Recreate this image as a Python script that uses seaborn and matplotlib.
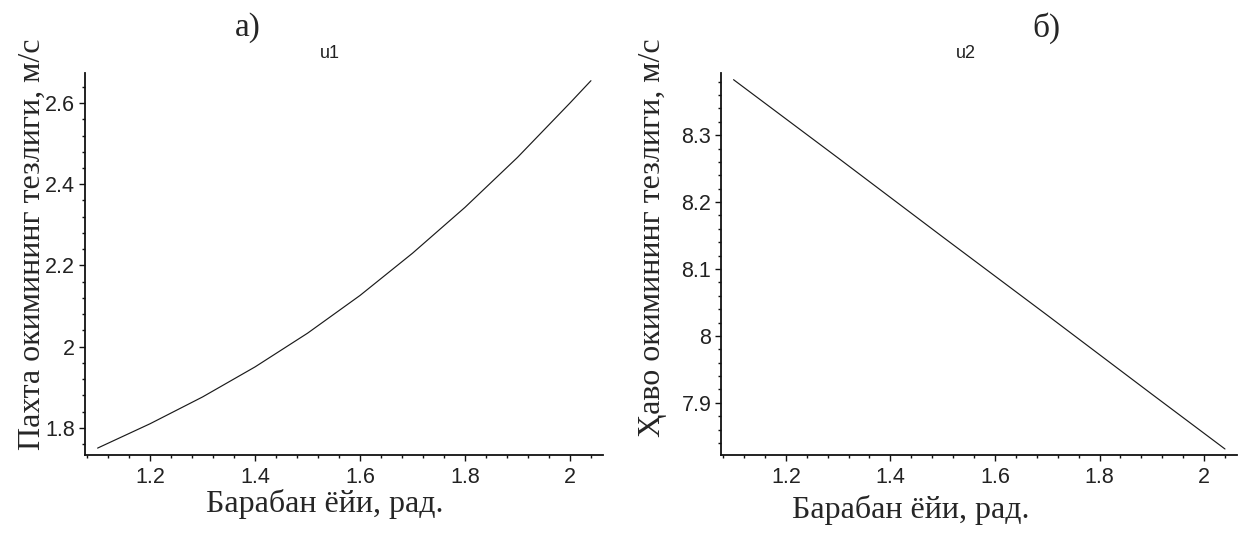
import numpy as np
import pandas as pd
import matplotlib
matplotlib.use("Agg")
import matplotlib.pyplot as plt
from matplotlib.ticker import MultipleLocator, FuncFormatter
import seaborn as sns

# ---- data ----
angle_u1 = [1.1, 1.2, 1.3, 1.4, 1.5, 1.6, 1.7, 1.8, 1.9, 2.0, 2.04]
u1_values = [1.750, 1.810, 1.876, 1.950, 2.033, 2.126, 2.230, 2.343, 2.466, 2.600, 2.655]
angle_u2 = [1.1, 1.3, 1.5, 1.7, 1.9, 2.04]
u2_values = [8.383, 8.266, 8.148, 8.031, 7.913, 7.831]

panel_letters = ["а)", "б)"]
panel_titles = ["u1", "u2"]
x_label = "Барабан ёйи, рад."
y_labels = ["Пахта окимининг тезлиги, м/с", "Ҳаво окимининг тезлиги, м/с"]

sns.set_theme(style="ticks")
plt.rcParams["font.family"] = ["Liberation Sans", "DejaVu Sans"]

W, H = 1240, 539
fig = plt.figure(figsize=(W / 100, H / 100), dpi=100)

def fx(px):
    return px / W

def fy(py):
    return 1 - py / H

ax1 = fig.add_axes([fx(85), fy(455), fx(603) - fx(85), fy(73) - fy(455)])
ax2 = fig.add_axes([fx(721), fy(455), fx(1237) - fx(721), fy(73) - fy(455)])

df1 = pd.DataFrame({"x": angle_u1, "y": u1_values})
df2 = pd.DataFrame({"x": angle_u2, "y": u2_values})
sns.lineplot(data=df1, x="x", y="y", ax=ax1, color="#1a1a1a", linewidth=0.85)
sns.lineplot(data=df2, x="x", y="y", ax=ax2, color="#1a1a1a", linewidth=0.85)

fmt = FuncFormatter(lambda v, p: f"{v:g}")
serif = ["Liberation Serif", "DejaVu Serif"]

for ax, ylim, ymaj, ymin in [
    (ax1, (1.733, 2.674), 0.2, 0.04),
    (ax2, (7.822, 8.393), 0.1, 0.02),
]:
    ax.set_xlim(1.076, 2.063)
    ax.set_ylim(*ylim)
    ax.xaxis.set_major_locator(MultipleLocator(0.2))
    ax.xaxis.set_minor_locator(MultipleLocator(0.04))
    ax.yaxis.set_major_locator(MultipleLocator(ymaj))
    ax.yaxis.set_minor_locator(MultipleLocator(ymin))
    ax.xaxis.set_major_formatter(fmt)
    ax.yaxis.set_major_formatter(fmt)
    ax.set_xlabel("")
    ax.set_ylabel("")
    for s in ["top", "right"]:
        ax.spines[s].set_visible(False)
    for s in ["left", "bottom"]:
        ax.spines[s].set_linewidth(1.3)
        ax.spines[s].set_color("#111111")
    ax.tick_params(which="major", direction="out", length=4.5, width=1.0,
                   color="#111111", labelsize=15.5, labelcolor="#222222", pad=2.5)
    ax.tick_params(which="minor", direction="out", length=2.5, width=1.0,
                   color="#111111")
    ax.tick_params(axis="x", which="major", pad=4)
    ax.set_facecolor("white")

# panel letters
fig.text(fx(248), fy(28), panel_letters[0], ha="center", va="center",
         fontsize=24, family=serif)
fig.text(fx(1046), fy(28), panel_letters[1], ha="center", va="center",
         fontsize=24, family=serif)

# small titles
fig.text(fx(330), fy(53), panel_titles[0], ha="center", va="center",
         fontsize=13, color="#222222")
fig.text(fx(966), fy(53), panel_titles[1], ha="center", va="center",
         fontsize=13, color="#222222")

# x labels
fig.text(fx(325), fy(512), x_label, ha="center", va="baseline",
         fontsize=23, family=serif)
fig.text(fx(911), fy(518), x_label, ha="center", va="baseline",
         fontsize=23, family=serif)

# y labels
fig.text(fx(40), fy(38), y_labels[0], rotation=90, rotation_mode="anchor",
         ha="right", va="baseline", fontsize=23, family=serif)
fig.text(fx(660), fy(38), y_labels[1], rotation=90, rotation_mode="anchor",
         ha="right", va="baseline", fontsize=23, family=serif)

fig.savefig("out.png", dpi=100, facecolor="white")
